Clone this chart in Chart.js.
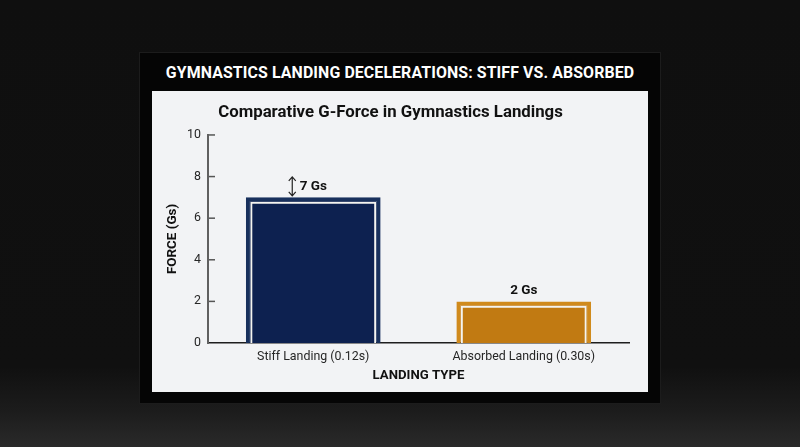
<!DOCTYPE html>
<html>
<head>
<meta charset="utf-8">
<script src="https://cdn.jsdelivr.net/npm/chart.js@4.4.0/dist/chart.umd.min.js"></script>
<style>
  html, body { margin: 0; padding: 0; }
  body {
    width: 800px; height: 447px; overflow: hidden; position: relative;
    background: linear-gradient(to bottom, #0f0f0f 0%, #101010 82%, #1c1c1c 92%, #2a2a2a 100%);
    font-family: Roboto, "Liberation Sans", sans-serif;
  }
  #panel {
    position: absolute; left: 140px; top: 53px; width: 520px; height: 350px;
    background: #050505; box-shadow: 0 0 0 1px #1c1c1c;
  }
  #header {
    position: absolute; left: 0; top: 0; width: 520px; height: 38px;
    color: #ffffff; font-weight: bold; font-size: 15.9px; text-align: center;
    line-height: 40px; letter-spacing: 0.1px;
  }
  #card {
    position: absolute; left: 12px; top: 38px; width: 496px; height: 301px;
    background: #f2f3f5;
  }
  canvas { display: block; }
</style>
</head>
<body>
<div id="panel">
  <div id="header">GYMNASTICS LANDING DECELERATIONS: STIFF VS. ABSORBED</div>
  <div id="card"><canvas id="c" width="496" height="301"></canvas></div>
</div>
<script>
const categories = ['Stiff Landing (0.12s)', 'Absorbed Landing (0.30s)'];
const forceValues = [7, 2];
const valueLabels = ['7 Gs', '2 Gs'];
const showArrow = [true, false];
const yTicks = [0, 2, 4, 6, 8, 10];

const fillColors = ['#0d2150', '#c17a12'];
const edgeColors = ['#18305c', '#d08a1c'];

const insetPlugin = {
  id: 'insetPlugin',
  afterDatasetsDraw(chart) {
    const ctx = chart.ctx;
    const meta = chart.getDatasetMeta(0);
    ctx.save();
    meta.data.forEach((bar, i) => {
      const p = bar.getProps(['x', 'y', 'base', 'width'], true);
      const l = p.x - p.width / 2 + 5.5, r = p.x + p.width / 2 - 5.5, t = p.y + 5.5, b = p.base;
      ctx.strokeStyle = '#f4f4f0';
      ctx.lineWidth = 1.8;
      ctx.beginPath();
      ctx.moveTo(l, b); ctx.lineTo(l, t); ctx.lineTo(r, t); ctx.lineTo(r, b);
      ctx.stroke();
      ctx.fillStyle = '#111111';
      ctx.font = 'bold 13.5px Roboto, sans-serif';
      ctx.textAlign = 'center';
      ctx.textBaseline = 'middle';
      const ty = p.y - 11;
      ctx.fillText(valueLabels[i], p.x, ty);
      if (showArrow[i]) {
        const ax = p.x - 21, a1 = ty - 9.5, a2 = ty + 9.5;
        ctx.strokeStyle = '#222';
        ctx.lineWidth = 1.2;
        ctx.beginPath();
        ctx.moveTo(ax, a1); ctx.lineTo(ax, a2);
        ctx.moveTo(ax - 3.5, a1 + 4); ctx.lineTo(ax, a1); ctx.lineTo(ax + 3.5, a1 + 4);
        ctx.moveTo(ax - 3.5, a2 - 4); ctx.lineTo(ax, a2); ctx.lineTo(ax + 3.5, a2 - 4);
        ctx.stroke();
      }
    });
    const ys = chart.scales.y;
    ctx.strokeStyle = '#555';
    ctx.lineWidth = 1.5;
    ys.ticks.forEach(t => {
      const py = ys.getPixelForValue(t.value);
      if (t.value === 0) return;
      ctx.beginPath();
      ctx.moveTo(ys.right + 1, py); ctx.lineTo(ys.right + 7, py);
      ctx.stroke();
    });
    ctx.restore();
  }
};

new Chart(document.getElementById('c'), {
  type: 'bar',
  data: {
    labels: categories,
    datasets: [{
      data: forceValues,
      backgroundColor: fillColors,
      borderColor: edgeColors,
      borderWidth: 4,
      borderSkipped: 'bottom',
      barPercentage: 0.64,
      categoryPercentage: 1.0
    }]
  },
  options: {
    responsive: false,
    animation: false,
    devicePixelRatio: 1,
    layout: { padding: { left: 0, right: 19, top: 0, bottom: 0 } },
    plugins: {
      legend: { display: false },
      tooltip: { enabled: false },
      title: {
        display: true,
        text: 'Comparative G-Force in Gymnastics Landings',
        color: '#111111',
        font: { family: 'Roboto', size: 16.8, weight: 'bold' },
        padding: { top: 11.9, bottom: 11.9 }
      }
    },
    scales: {
      x: {
        grid: { display: false, drawTicks: false },
        border: { display: true, color: '#1e1e1e', width: 1.6 },
        ticks: { color: '#262626', font: { family: 'Roboto', size: 12.4 }, padding: 6 },
        title: {
          display: true, text: 'LANDING TYPE', color: '#111',
          font: { family: 'Roboto', size: 13.2, weight: 'bold' },
          padding: { top: 0, bottom: 8.2 }
        },
        afterFit(scale) { scale.height = 49; }
      },
      y: {
        min: 0, max: 10,
        afterBuildTicks(scale) { scale.ticks = yTicks.map(v => ({ value: v })); },
        grid: { display: false, drawTicks: false },
        border: { display: true, color: '#606060', width: 2 },
        ticks: { color: '#262626', font: { family: 'Roboto', size: 12.4 }, padding: 7 },
        title: {
          display: true, text: 'FORCE (Gs)', color: '#111',
          font: { family: 'Roboto', size: 13.4, weight: 'bold' },
          padding: { top: 13, bottom: 4 }
        },
        afterFit(scale) { scale.width = 56; }
      }
    }
  },
  plugins: [insetPlugin]
});
</script>
</body>
</html>
